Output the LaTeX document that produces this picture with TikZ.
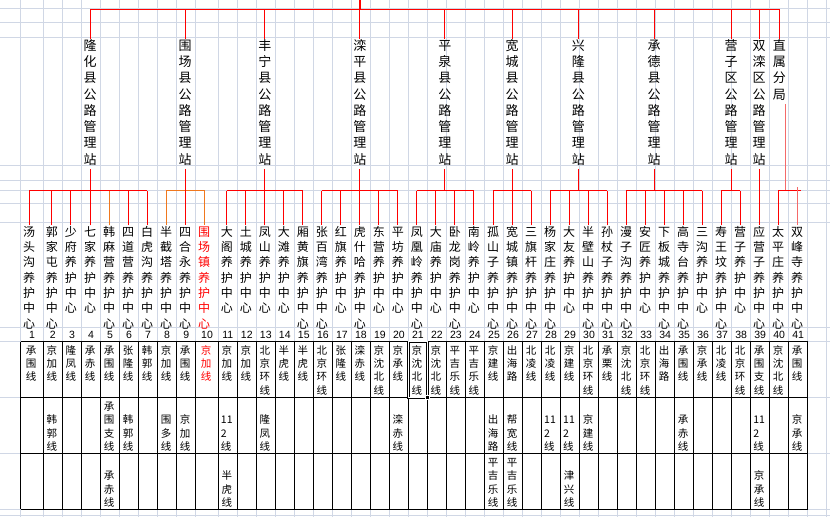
\documentclass[tikz,border=0pt]{standalone}
\usepackage{fontspec}
\setmainfont{Liberation Sans}
\newfontfamily\cjk{Noto Sans CJK SC}
\definecolor{gridc}{RGB}{208,215,229}
\definecolor{orgline}{RGB}{240,120,30}
\definecolor{paleline}{RGB}{245,105,105}

% one character per line
\makeatletter
\newcommand\vstack[1]{\def\vtoks{}\def\vsepx{}\expandafter\vstack@\expandafter{#1}\vtoks}
\def\vstack@#1{\@tfor\vchar:=#1\do{%
  \edef\vtoks{\unexpanded\expandafter{\vtoks}\unexpanded\expandafter{\vsepx}%
    \unexpanded\expandafter{\vchar}\noexpand\strut}\def\vsepx{\\}}}
\makeatother

\begin{document}
\begin{tikzpicture}[x=1pt,y=-1pt,
    gline/.style={draw=gridc, line width=1pt},
    tab/.style={draw=black, line width=1pt},
    link/.style={draw=red, line width=1pt},
    olink/.style={draw=orgline, line width=1pt},
    plink/.style={draw=paleline, line width=1pt},
    stn/.style={font=\cjk\fontsize{13}{16.24}\selectfont, align=center, anchor=north, inner sep=0pt},
    kid/.style={font=\cjk\fontsize{12}{15.3}\selectfont, align=center, anchor=north, inner sep=0pt},
    cell/.style={font=\cjk\fontsize{10.5}{13.33}\selectfont, align=left, inner sep=0pt},
    num/.style={font=\fontsize{10.5}{12}\selectfont, inner sep=0pt}]
  \useasboundingbox (0,0) rectangle (830,517);
  % sheet grid
  \foreach \x in {20.7,43.3,62.4,81.5,100.6,119.6,138.6,157.6,176.7,195.7,218.3,237.3,256.3,275.3,
      294.3,313.3,332.4,351.4,370.4,389.4,408.4,427.4,446.4,465.4,484.5,503.5,522.5,541.5,560.5,
      579.5,598.5,617.6,636.6,655.6,674.6,693.6,712.6,731.6,750.7,769.7,788.7,807.7,826.7}
    \draw[gline] (\x,0) -- (\x,517);
  \foreach \y in {8.3,22.7,37.3,165.7,180.7,190.7,203.3,222.3,327.3,341.7,397.7,453.3,509.3,515}
    \draw[gline] (0,\y) -- (830,\y);
  % table frame
  \foreach \y in {341.7,397.7,453.3,509.3}
    \draw[tab] (20.7,\y) -- (807.7,\y);
  \draw[tab] (20.7,341.7) -- (20.7,509.3);
  % stations
  \foreach \x/\name [count=\k] in {90/隆化县公路管理站, 185.2/围场县公路管理站, 264.8/丰宁县公路管理站,
      359.9/滦平县公路管理站, 444.9/平泉县公路管理站, 512/宽城县公路管理站, 578.3/兴隆县公路管理站,
      654.2/承德县公路管理站, 731/营子区公路管理站, 759.2/双滦区公路管理站, 779.3/直属分局}
    \node[stn] (s\k) at (\x,38.9) {\vstack{\name}};
  % centres, numbers and roads
  \foreach \xr/\cname/\ra/\rb/\rc [count=\i, remember=\xr as \xl (initially 20.7)] in {
      43.3/汤头沟养护中心/承围线//,
      62.4/郭家屯养护中心/京加线/韩郭线/,
      81.5/少府养护中心/隆凤线//,
      100.6/七家养护中心/承赤线//,
      119.6/韩麻营养护中心/承围线/承围支线/承赤线,
      138.6/四道营养护中心/张隆线/韩郭线/,
      157.6/白虎沟养护中心/韩郭线//,
      176.7/半截塔养护中心/京加线/围多线/,
      195.7/四合永养护中心/承围线/京加线/,
      218.3/围场镇养护中心/京加线//,
      237.3/大阁养护中心/京加线/{11}{2}线/半虎线,
      256.3/土城养护中心/京加线//,
      275.3/凤山养护中心/北京环线/隆凤线/,
      294.3/大滩养护中心/半虎线//,
      313.3/厢黄旗养护中心/半虎线//,
      332.4/张百湾养护中心/北京环线//,
      351.4/红旗养护中心/张隆线//,
      370.4/虎什哈养护中心/滦赤线//,
      389.4/东营养护中心/京沈北线//,
      408.4/平坊养护中心/京承线/滦赤线/,
      427.4/凤凰岭养护中心/京沈北线//,
      446.4/大庙养护中心/京沈北线//,
      465.4/卧龙岗养护中心/平吉乐线//,
      484.5/南岭养护中心/平吉乐线//,
      503.5/孤山子养护中心/京建线/出海路/平吉乐线,
      522.5/宽城镇养护中心/出海路/帮宽线/平吉乐线,
      541.5/三旗杆养护中心/北凌线//,
      560.5/杨家庄养护中心/北凌线/{11}{2}线/,
      579.5/大友养护中心/京建线/{11}{2}线/津兴线,
      598.5/半壁山养护中心/北京环线/京建线/,
      617.6/孙杖子养护中心/承栗线//,
      636.6/漫子沟养护中心/京沈北线//,
      655.6/安匠养护中心/北京环线//,
      674.6/下板城养护中心/出海路//,
      693.6/高寺台养护中心/承围线/承赤线/,
      712.6/三沟养护中心/京承线//,
      731.6/寿王坟养护中心/北凌线//,
      750.7/营子养护中心/北京环线//,
      769.7/应营子养护中心/承围支线/{11}{2}线/京承线,
      788.7/太平庄养护中心/京沈北线//,
      807.7/双峰寺养护中心/承围线/京承线/}{
    \ifnum\i=10 \def\tc{red}\else\def\tc{black}\fi
    \node[kid, text=\tc] (c\i) at (\xl+8.5,225.4) {\vstack{\cname}};
    \node[num] (n\i) at ({(\xl+\xr)/2},335) {\i};
    \node[cell, text=\tc, anchor=north] (ra\i) at ({(\xl+\xr)/2-1},344.7) {\vstack{\ra}};
    \node[cell, anchor=south] (rb\i) at ({(\xl+\xr)/2-1},454.7) {\vstack{\rb}};
    \node[cell, anchor=south] (rc\i) at ({(\xl+\xr)/2-1},510.7) {\vstack{\rc}};
    \draw[tab] (\xr,341.7) -- (\xr,509.3);
  }
  % selected cell
  \draw[line width=0.8pt, double, double distance=0.8pt] (408.4,341.7) rectangle (427.4,397.7);
  \filldraw[draw=white, fill=black, line width=0.5pt] (425.4,395.7) rectangle (429.4,399.7);
  % tree lines
  \path (0,9.3) coordinate (top) (0,190.5) coordinate (bar);
  \draw[link, line width=2pt] (s4.north |- 0,0) -- (s4.north |- top);
  \draw[link] (s1.north |- top) -- (s11.north |- top);
  \foreach \k in {1,...,11}
    \draw[link] (s\k.north) -- (s\k.north |- top);
  \foreach \k/\a/\b in {1/1/7, 3/11/15, 4/16/20, 5/21/24, 6/25/27, 7/28/31, 8/32/36, 9/37/38}{
    \draw[link] (s\k.south) -- (s\k.south |- bar);
    \draw[link] (c\a.north |- bar) -- (c\b.north |- bar);
    \foreach \i in {\a,...,\b}
      \draw[link] (c\i.north) -- (c\i.north |- bar);
  }
  \draw[olink] (c5.north) -- (c5.north |- bar);
  \draw[olink] (c8.north) -- (c8.north |- bar) -- (c10.north |- bar) -- (c10.north);
  \draw[link] (s2.south) -- (s2.south |- c9.north);
  \draw[link] (s10.south) -- (s10.south |- c39.north);
  % direct branch
  \coordinate (sx) at ([xshift=6.5pt]s11.south);
  \draw[plink] (sx) -- (sx |- bar);
  \draw[link] (c40.north) -- (c40.north |- bar) -- ++(22.3,0);
  \draw[plink] (c41.north) -- ++(0,-38.7);
\end{tikzpicture}
\end{document}
